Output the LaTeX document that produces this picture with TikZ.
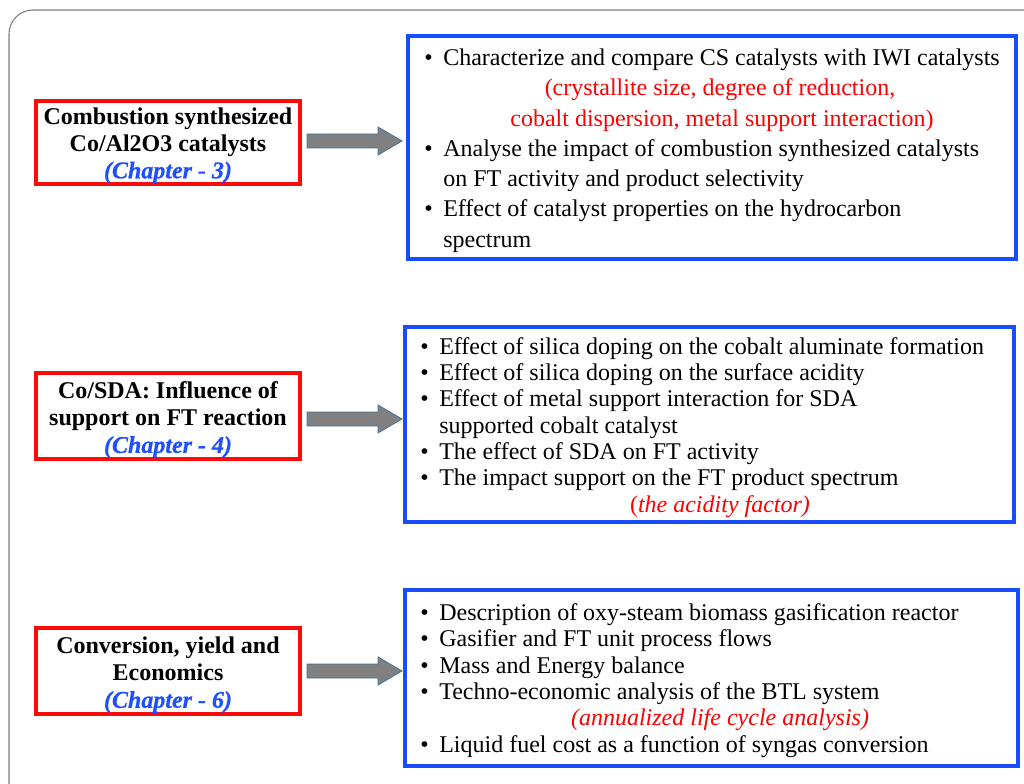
\documentclass[tikz,border=0pt]{standalone}
\usepackage{fontspec}
\setmainfont{Liberation Serif}
\newfontfamily\chapfont{Liberation Serif}[FakeBold=0.7]
\definecolor{bxblue}{RGB}{25,75,255}
\definecolor{chblue}{RGB}{30,80,255}
\definecolor{bxred}{RGB}{255,10,10}
\definecolor{txred}{RGB}{255,0,0}
\definecolor{arrfill}{RGB}{128,128,128}
\definecolor{arrline}{RGB}{65,113,156}
\definecolor{frame}{RGB}{125,125,125}
\begin{document}
\begin{tikzpicture}[x=0.75pt,y=-0.75pt,
  redbox/.style={draw=bxred,line width=2.4pt,minimum width=198pt,inner sep=0pt},
  redtxt/.style={align=center,inner sep=0pt,font=\fontsize{18}{20.25}\selectfont\bfseries},
  bluebox/.style={draw=bxblue,line width=2.4pt,inner sep=0pt},
  txt/.style={anchor=base west,inner sep=0pt,font=\fontsize{18}{22}\selectfont},
  ctxt/.style={anchor=base,inner sep=0pt,font=\fontsize{18}{22}\selectfont,text=txred},
  bul/.style={anchor=base west,inner sep=0pt,font=\fontsize{18}{22}\selectfont},
  fatarrow/.style={fill=arrfill,draw=arrline,line width=0.6pt,line join=miter}]
\useasboundingbox (0,0) rectangle (1024,784);
% outer frame
\draw[frame,line width=0.8pt,rounded corners=18] (9,800) -- (9,10) -- (1040,10);

% red boxes
\node[redbox,minimum height=62.25pt] (r1) at (168,142.5) {};
\node[redbox,minimum height=64.5pt] (r2) at (168,416) {};
\node[redbox,minimum height=64.5pt] (r3) at (168,671) {};
\node[redtxt] (r1t) at (168,145.5)
  {Combustion synthesized\\Co/Al2O3 catalysts\\{\color{chblue}\chapfont\bfseries\itshape (Chapter - 3)}};
\node[redtxt] (r2t) at (168,420)
  {Co/SDA: Influence of\\support on FT reaction\\{\color{chblue}\chapfont\bfseries\itshape (Chapter - 4)}};
\node[redtxt] (r3t) at (168,675)
  {Conversion, yield and\\Economics\\{\color{chblue}\chapfont\bfseries\itshape (Chapter - 6)}};

% blue boxes
\node[bluebox,minimum width=456pt,minimum height=167.25pt] (b1) at (712,147.5) {};
\node[bluebox,minimum width=456.75pt,minimum height=146.25pt] (b2) at (709.5,424.5) {};
\node[bluebox,minimum width=459.75pt,minimum height=132pt] (b3) at (711.5,678) {};

% arrows
\coordinate (a1) at (307,141);
\coordinate (a2) at (307,419);
\coordinate (a3) at (307,671);
\foreach \a in {a1,a2,a3}{
  \draw[fatarrow] (\a) ++(0,-7) -- ++(71,0) -- ++(0,-7) -- ++(24,14) -- ++(-24,14) -- ++(0,-7) -- ++(-71,0) -- cycle;
}

% box 1 text
\node[bul] (b1u1) at (424,66) {•};
\node[txt] (b1t1) at (443,66) {Characterize and compare CS catalysts with IWI catalysts};
\node[ctxt] (b1t2) at (720,96) {(crystallite size, degree of reduction,};
\node[ctxt] (b1t3) at (722,126.5) {cobalt dispersion, metal support interaction)};
\node[bul] (b1u2) at (424,157) {•};
\node[txt] (b1t4) at (443,157) {Analyse the impact of combustion synthesized catalysts};
\node[txt] (b1t5) at (443,187) {on FT activity and product selectivity};
\node[bul] (b1u3) at (424,217) {•};
\node[txt] (b1t6) at (443,217) {Effect of catalyst properties on the hydrocarbon};
\node[txt] (b1t7) at (443,247.5) {spectrum};

% box 2 text
\node[bul] (b2u1) at (420,354.5) {•};
\node[txt] (b2t1) at (439,354.5) {Effect of silica doping on the cobalt aluminate formation};
\node[bul] (b2u2) at (420,380.5) {•};
\node[txt] (b2t2) at (439,380.5) {Effect of silica doping on the surface acidity};
\node[bul] (b2u3) at (420,406.5) {•};
\node[txt] (b2t3) at (439,406.5) {Effect of metal support interaction for SDA};
\node[txt] (b2t4) at (439,433) {supported cobalt catalyst};
\node[bul] (b2u4) at (420,459.5) {•};
\node[txt] (b2t5) at (439,459.5) {The effect of SDA on FT activity};
\node[bul] (b2u5) at (420,485.5) {•};
\node[txt] (b2t6) at (439,485.5) {The impact support on the FT product spectrum};
\node[ctxt] (b2t7) at (720,512) {(\textit{the acidity factor)}};

% box 3 text
\node[bul] (b3u1) at (420,620.5) {•};
\node[txt] (b3t1) at (439,620.5) {Description of oxy-steam biomass gasification reactor};
\node[bul] (b3u2) at (420,646.5) {•};
\node[txt] (b3t2) at (439,646.5) {Gasifier and FT unit process flows};
\node[bul] (b3u3) at (420,673.5) {•};
\node[txt] (b3t3) at (439,673.5) {Mass and Energy balance};
\node[bul] (b3u4) at (420,699.5) {•};
\node[txt] (b3t4) at (439,699.5) {Techno-economic analysis of the BTL system};
\node[ctxt] (b3t5) at (720,725.5) {\itshape (annualized life cycle analysis)};
\node[bul] (b3u5) at (420,752.5) {•};
\node[txt] (b3t6) at (439,752.5) {Liquid fuel cost as a function of syngas conversion};
\end{tikzpicture}
\end{document}
